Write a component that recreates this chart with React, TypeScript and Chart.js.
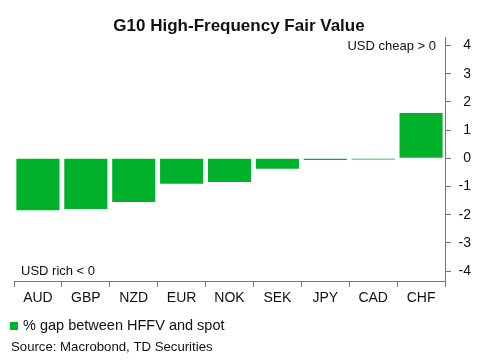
import React, { useEffect, useRef } from "react";
import { Chart, registerables } from "chart.js";

Chart.register(...registerables);

const categories = ["AUD", "GBP", "NZD", "EUR", "NOK", "SEK", "JPY", "CAD", "CHF"];
const gapValues = [-1.84, -1.8, -1.55, -0.9, -0.84, -0.37, -0.06, -0.04, 1.61];
const seriesLabel = "% gap between HFFV and spot";
const titleText = "G10 High-Frequency Fair Value";
const sourceText = "Source: Macrobond, TD Securities";
const cheapText = "USD cheap > 0";
const richText = "USD rich < 0";

const GREEN = "#00b22b";
const FONT = "'Liberation Sans', Arial, sans-serif";
const TEXT = "#111111";
const AXIS = "#777777";

export default function App() {
  const ref = useRef<HTMLCanvasElement | null>(null);

  useEffect(() => {
    if (!ref.current) return;
    const extras = {
      id: "extras",
      afterDraw(chart: any) {
        const ctx = chart.ctx;
        const ca = chart.chartArea;
        const y = chart.scales.y;
        ctx.save();
        ctx.fillStyle = TEXT;
        ctx.textBaseline = "middle";
        // title
        ctx.font = `bold 17px ${FONT}`;
        ctx.textAlign = "center";
        ctx.fillText(titleText, 239, 26);
        ctx.font = `13px ${FONT}`;
        ctx.textAlign = "right";
        ctx.fillText(cheapText, ca.right - 9, y.getPixelForValue(4) + 1);
        ctx.textAlign = "left";
        ctx.fillText(richText, ca.left + 7, y.getPixelForValue(-4));
        // legend
        ctx.fillStyle = GREEN;
        ctx.fillRect(10, 322, 8, 8);
        ctx.fillStyle = TEXT;
        ctx.font = `14.5px ${FONT}`;
        ctx.fillText(seriesLabel, 23, 326);
        ctx.font = `13.2px ${FONT}`;
        ctx.fillText(sourceText, 11, 347);
        ctx.restore();
      },
    };
    const chart = new Chart(ref.current, {
      type: "bar",
      data: {
        labels: categories,
        datasets: [
          {
            label: seriesLabel,
            data: gapValues,
            backgroundColor: GREEN,
            borderWidth: 0,
            barPercentage: 0.9,
            categoryPercentage: 1,
          },
        ],
      },
      options: {
        animation: false,
        responsive: false,
        maintainAspectRatio: false,
        layout: { padding: { left: 14, right: 6, top: 37, bottom: 39 } },
        plugins: {
          legend: { display: false },
          tooltip: { enabled: false },
          title: { display: false },
        },
        scales: {
          x: {
            grid: {
              display: true,
              drawOnChartArea: false,
              drawTicks: true,
              tickLength: 6,
              color: (c: any) => (c.index === categories.length ? "rgba(0,0,0,0)" : AXIS),
              offset: true,
            },
            border: { display: true, color: AXIS, width: 1 },
            ticks: { color: TEXT, font: { family: FONT, size: 14 }, padding: 3, maxRotation: 0 },
            afterFit(scale: any) {
              scale.height = 40;
            },
          },
          y: {
            position: "right",
            min: -4.35,
            max: 4.3,
            grid: {
              display: true,
              drawOnChartArea: false,
              drawTicks: true,
              tickLength: 6,
              color: AXIS,
            },
            border: { display: true, color: AXIS, width: 1 },
            ticks: {
              stepSize: 1,
              includeBounds: false,
              color: TEXT,
              font: { family: FONT, size: 14 },
              crossAlign: "far",
            },
            afterFit(scale: any) {
              scale.width = 26;
            },
          },
        },
      },
      plugins: [extras],
    } as any);
    return () => chart.destroy();
  }, []);

  return (
    <div style={{ position: "absolute", left: 0, top: 0, width: 477, height: 360, background: "#fff" }}>
      <canvas ref={ref} width={477} height={360} style={{ width: 477, height: 360 }} />
    </div>
  );
}
